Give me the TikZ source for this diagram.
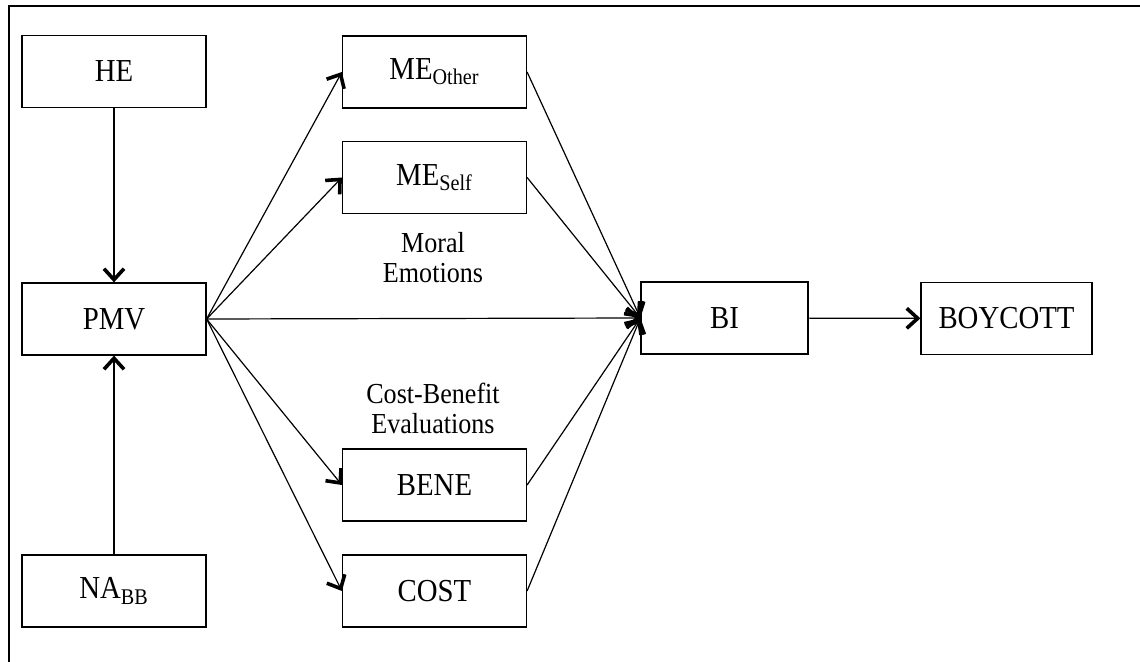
\documentclass[tikz,border=0pt]{standalone}
\usepackage{fontspec}
\setmainfont{Liberation Serif}[FakeStretch=0.9]
\usepackage{tikz}
\usetikzlibrary{arrows.meta}

\begin{document}
\begin{tikzpicture}[x=0.5pt,y=-0.5pt,
    box/.style={draw,line width=0.6pt,minimum width=92pt,minimum height=36pt,inner sep=0pt,
      font=\fontsize{16}{17}\selectfont},
    note/.style={align=center,font=\fontsize{14.5}{15}\selectfont},
    link/.style={line width=0.6pt,-{Straight Barb[length=5.5pt,width=10pt,line width=1.8pt]}}]
      \useasboundingbox (0,0) rectangle (1140,662);
      % frame
      \draw [line width=1.1pt] (1140,6) -- (9,6) -- (9,662);
      % antecedents
      \node [box] (he) at (114,71.5) {HE};
      \node [box] (pmv) at (114,319) {PMV};
      \node [box] (nabb) at (114,591) {NA\textsubscript{BB}};
      % mediators
      \node [box] (meother) at (434.5,72) {ME\textsubscript{Other}};
      \node [box] (meself) at (434.5,177.5) {ME\textsubscript{Self}};
      \node [box] (bene) at (434.5,485) {BENE};
      \node [box] (cost) at (434.5,591) {COST};
      \node [note] (moral) at (433,258) {Moral\\Emotions};
      \node [note] (costben) at (433,408) {Cost-Benefit\\Evaluations};
      % outcomes
      \node [box,minimum width=83.5pt] (bi) at (724.5,318) {BI};
      \node [box,minimum width=85.5pt] (boycott) at (1006.5,318.5) {BOYCOTT};
      % paths
      \draw [link] (he) -- (pmv);
      \draw [link] (nabb) -- (pmv);
      \draw [link] (pmv.east) -- (meother.west);
      \draw [link] (pmv.east) -- (meself.west);
      \draw [link] (pmv.east) -- (bi.west);
      \draw [link] (pmv.east) -- (bene.west);
      \draw [link] (pmv.east) -- (cost.west);
      \draw [link] (meother.east) -- (bi.west);
      \draw [link] (meself.east) -- (bi.west);
      \draw [link] (bene.east) -- (bi.west);
      \draw [link] (cost.east) -- (bi.west);
      \draw [link] (bi) -- (boycott);
\end{tikzpicture}
\end{document}
